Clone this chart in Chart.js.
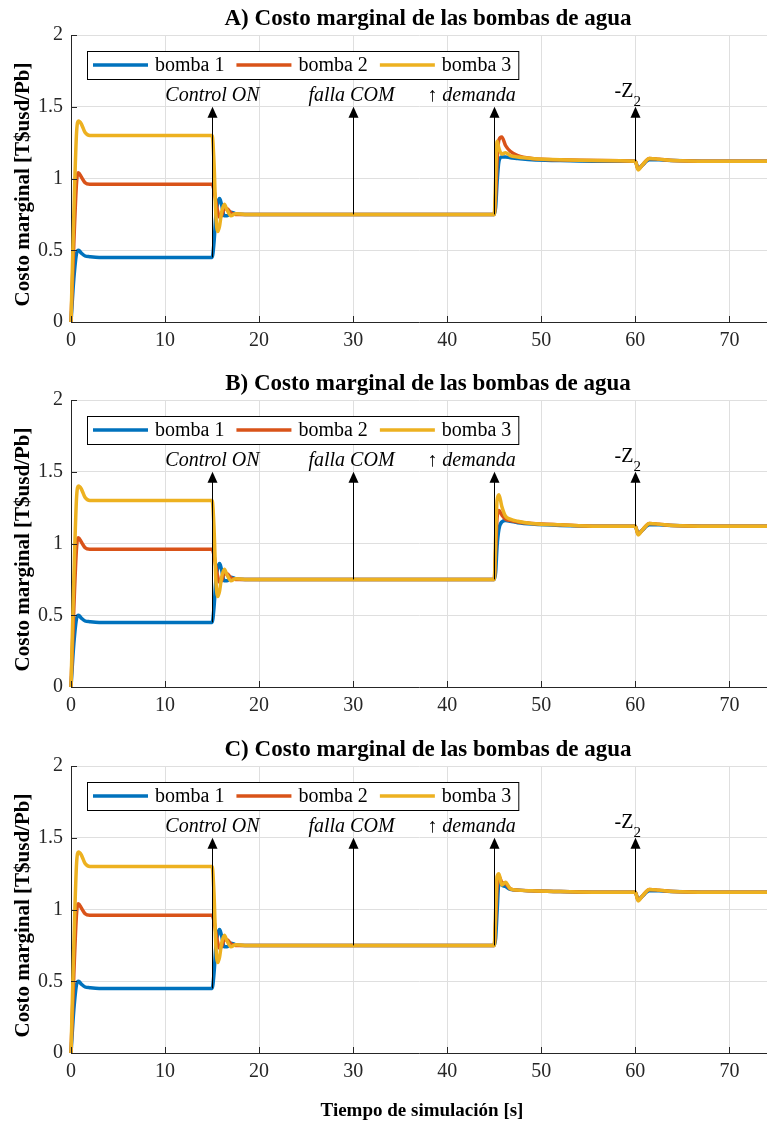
<!DOCTYPE html>
<html>
<head>
<meta charset="utf-8">
<script src="https://cdn.jsdelivr.net/npm/chart.js@4"></script>
<style>
  body { margin: 0; background: #fff; }
  #wrap { position: relative; width: 767px; height: 1124px; }
  .panel { position: absolute; left: 0; width: 767px; }
</style>
</head>
<body>
<div id="wrap">
  <div class="panel" style="top:0;height:365px"><canvas id="chartA"></canvas></div>
  <div class="panel" style="top:365px;height:366px"><canvas id="chartB"></canvas></div>
  <div class="panel" style="top:731px;height:393px"><canvas id="chartC"></canvas></div>
</div>
<script>
// tramo comun: arranque y entrada del control (0 - 30 s)
const tiempoArranque = [0, 0.3, 0.6, 0.8, 1.1, 1.5, 2, 3, 15, 15.2, 15.4, 15.6, 15.8, 16, 16.3, 16.6, 17, 17.5, 18.5, 20, 30];
const arranque1 = [0, 0.30, 0.48, 0.50, 0.48, 0.46, 0.455, 0.45, 0.45, 0.55, 0.74, 0.83, 0.86, 0.82, 0.74, 0.74, 0.765, 0.755, 0.75, 0.75, 0.75];
const arranque2 = [0, 0.55, 0.98, 1.04, 1.01, 0.97, 0.96, 0.96, 0.96, 0.92, 0.84, 0.77, 0.73, 0.74, 0.79, 0.79, 0.76, 0.75, 0.75, 0.75, 0.75];
const arranque3 = [0, 0.75, 1.33, 1.40, 1.38, 1.32, 1.30, 1.30, 1.30, 1.12, 0.75, 0.63, 0.67, 0.76, 0.82, 0.78, 0.74, 0.755, 0.75, 0.75, 0.75];

// aumento de demanda (45 - 60 s), distinto en cada caso
const tiempoDemanda = [45, 45.15, 45.3, 45.5, 45.8, 46.2, 46.7, 47.5, 49, 52, 56, 60];
const demandaA1 = [0.75, 0.80, 0.97, 1.12, 1.15, 1.15, 1.145, 1.14, 1.13, 1.125, 1.12, 1.12];
const demandaA2 = [0.75, 0.88, 1.12, 1.27, 1.29, 1.23, 1.19, 1.16, 1.14, 1.13, 1.125, 1.12];
const demandaA3 = [0.75, 1.00, 1.26, 1.21, 1.17, 1.18, 1.16, 1.15, 1.14, 1.13, 1.125, 1.12];
const demandaB1 = [0.75, 0.80, 0.98, 1.10, 1.15, 1.16, 1.155, 1.145, 1.135, 1.125, 1.12, 1.12];
const demandaB2 = [0.75, 0.95, 1.18, 1.23, 1.20, 1.17, 1.16, 1.15, 1.14, 1.13, 1.12, 1.12];
const demandaB3 = [0.75, 1.05, 1.30, 1.34, 1.26, 1.19, 1.17, 1.155, 1.14, 1.13, 1.12, 1.12];
const demandaC1 = [0.75, 0.80, 0.98, 1.19, 1.17, 1.16, 1.14, 1.135, 1.13, 1.125, 1.12, 1.12];
const demandaC2 = [0.75, 0.92, 1.15, 1.23, 1.19, 1.18, 1.145, 1.135, 1.13, 1.125, 1.12, 1.12];
const demandaC3 = [0.75, 1.00, 1.23, 1.25, 1.17, 1.19, 1.145, 1.135, 1.13, 1.125, 1.12, 1.12];

// salida de Z2 (60 - 74 s), comun
const tiempoZ = [60.3, 60.7, 61.5, 62.5, 64, 68, 74];
const salidaZ1 = [1.07, 1.09, 1.13, 1.13, 1.125, 1.12, 1.12];
const salidaZ2 = [1.065, 1.09, 1.14, 1.135, 1.125, 1.12, 1.12];
const salidaZ3 = [1.06, 1.09, 1.14, 1.135, 1.125, 1.12, 1.12];

const nombres = ["bomba 1", "bomba 2", "bomba 3"];
const colores = ["#0072BD", "#D95319", "#EDB120"];

// eventos marcados con flechas
const eventos = [15, 30, 45, 60];
const eventoBase = [0.45, 0.75, 0.75, 1.12];
const eventoTope = 1.5;
const eventoTexto = ["Control ON", "falla COM", "\u2191 demanda", "-Z"];

const xTicks = [0, 10, 20, 30, 40, 50, 60, 70];
const yTicks = [0, 0.5, 1, 1.5, 2];

const tiempo = tiempoArranque.concat(tiempoDemanda, tiempoZ);

const SERIF = "'Liberation Serif', 'DejaVu Serif', serif";
const EJE = "#262626";

Chart.defaults.font.family = SERIF;
Chart.defaults.font.size = 20;
Chart.defaults.color = EJE;

const decoraciones = {
  id: "decoraciones",
  afterDatasetsDraw(chart) {
    const { ctx, scales: { x, y } } = chart;
    ctx.save();
    const tipY = y.getPixelForValue(eventoTope);
    eventos.forEach((t, i) => {
      const px = Math.round(x.getPixelForValue(t)) + 0.5;
      const y0 = y.getPixelForValue(eventoBase[i]);
      ctx.strokeStyle = "#000";
      ctx.lineWidth = 1;
      ctx.beginPath();
      ctx.moveTo(px, y0);
      ctx.lineTo(px, tipY + 8);
      ctx.stroke();
      ctx.fillStyle = "#000";
      ctx.beginPath();
      ctx.moveTo(px, tipY);
      ctx.lineTo(px - 5, tipY + 11);
      ctx.lineTo(px + 5, tipY + 11);
      ctx.closePath();
      ctx.fill();

      ctx.textBaseline = "alphabetic";
      if (i === 3) {
        ctx.font = "20px " + SERIF;
        ctx.textAlign = "right";
        ctx.fillText(eventoTexto[i], px - 2, tipY - 10);
        ctx.font = "15px " + SERIF;
        ctx.textAlign = "left";
        ctx.fillText("2", px - 2, tipY - 1);
      } else {
        ctx.font = "italic 20px " + SERIF;
        ctx.textAlign = "center";
        const dx = i === 2 ? -23 : (i === 1 ? -2 : 0);
        ctx.fillText(eventoTexto[i], px + dx, tipY - 6);
      }
    });
    ctx.restore();
  },
  afterDraw(chart, args, opts) {
    const { ctx, chartArea: a, scales: { x, y } } = chart;
    ctx.save();
    // marcas de graduacion hacia dentro
    ctx.strokeStyle = EJE;
    ctx.lineWidth = 1;
    xTicks.forEach(v => {
      const px = Math.round(x.getPixelForValue(v)) + 0.5;
      ctx.beginPath(); ctx.moveTo(px, a.bottom); ctx.lineTo(px, a.bottom - 6); ctx.stroke();
    });
    yTicks.forEach(v => {
      const py = Math.round(y.getPixelForValue(v)) + 0.5;
      ctx.beginPath(); ctx.moveTo(a.left, py); ctx.lineTo(a.left + 6, py); ctx.stroke();
    });

    // titulo
    ctx.fillStyle = "#000";
    ctx.font = "bold 23px " + SERIF;
    ctx.textAlign = "center";
    ctx.textBaseline = "alphabetic";
    ctx.fillText(opts.titulo, 428, a.top - 10);

    // titulo eje y
    ctx.save();
    ctx.translate(24, (a.top + a.bottom) / 2 + 6);
    ctx.rotate(-Math.PI / 2);
    ctx.font = "bold 21px " + SERIF;
    ctx.textBaseline = "middle";
    ctx.fillText("Costo marginal [T$usd/Pb]", 0, 0);
    ctx.restore();

    // titulo eje x
    if (opts.ejeX) {
      ctx.font = "bold 19px " + SERIF;
      ctx.textAlign = "center";
      ctx.fillText("Tiempo de simulaci\u00f3n [s]", 422, a.bottom + 63);
    }

    // leyenda dentro del area
    ctx.font = "20px " + SERIF;
    const bx = a.left + 16, by = a.top + 16, bh = 28, cy = by + bh / 2;
    let cx = bx + 6;
    const items = chart.data.datasets.map(ds => {
      const w = ctx.measureText(ds.label).width;
      const it = { ds, lx: cx, tx: cx + 62 };
      cx += 62 + w + 12;
      return it;
    });
    const bw = cx - 12 + 7 - bx;
    ctx.fillStyle = "#fff";
    ctx.fillRect(bx, by, bw, bh);
    ctx.strokeStyle = "#000";
    ctx.lineWidth = 1;
    ctx.strokeRect(bx + 0.5, by + 0.5, bw, bh);
    items.forEach(it => {
      ctx.strokeStyle = it.ds.borderColor;
      ctx.lineWidth = 3.5;
      ctx.beginPath(); ctx.moveTo(it.lx, cy); ctx.lineTo(it.lx + 55, cy); ctx.stroke();
      ctx.fillStyle = "#000";
      ctx.textAlign = "left";
      ctx.textBaseline = "middle";
      ctx.fillText(it.ds.label, it.tx, cy + 1);
    });
    ctx.restore();
  }
};

function serie(valores, k) {
  return {
    label: nombres[k],
    data: tiempo.map((t, i) => ({ x: t, y: valores[i] })),
    borderColor: colores[k],
    backgroundColor: colores[k],
    borderWidth: 3.5,
    pointRadius: 0,
    cubicInterpolationMode: "monotone",
    order: 3 - k,
    clip: false
  };
}

function crear(id, titulo, demandas, ejeX) {
  const series = [
    arranque1.concat(demandas[0], salidaZ1),
    arranque2.concat(demandas[1], salidaZ2),
    arranque3.concat(demandas[2], salidaZ3)
  ];
  new Chart(document.getElementById(id), {
    type: "line",
    data: { datasets: series.map((s, k) => serie(s, k)) },
    options: {
      responsive: true,
      maintainAspectRatio: false,
      animation: false,
      events: [],
      layout: { padding: { top: 35, left: 0, right: 0, bottom: 0 } },
      plugins: {
        legend: { display: false },
        tooltip: { enabled: false },
        decoraciones: { titulo, ejeX }
      },
      scales: {
        x: {
          type: "linear",
          min: 0,
          max: 74,
          afterBuildTicks: s => { s.ticks = xTicks.map(v => ({ value: v })); },
          afterFit: s => { s.height = s.chart.height - 35 - 287; },
          grid: { color: "#dfdfdf", drawTicks: false },
          border: { color: EJE, width: 1 },
          ticks: { padding: 7, color: EJE, maxRotation: 0, callback: v => String(v) }
        },
        y: {
          min: 0,
          max: 2,
          afterBuildTicks: s => { s.ticks = yTicks.map(v => ({ value: v })); },
          afterFit: s => { s.width = 71; },
          grid: { color: "#dfdfdf", drawTicks: false },
          border: { color: EJE, width: 1 },
          ticks: { padding: 8, color: EJE, callback: v => String(v) }
        }
      }
    },
    plugins: [decoraciones]
  });
}

crear("chartA", "A) Costo marginal de las bombas de agua", [demandaA1, demandaA2, demandaA3], false);
crear("chartB", "B) Costo marginal de las bombas de agua", [demandaB1, demandaB2, demandaB3], false);
crear("chartC", "C) Costo marginal de las bombas de agua", [demandaC1, demandaC2, demandaC3], true);
</script>
</body>
</html>
